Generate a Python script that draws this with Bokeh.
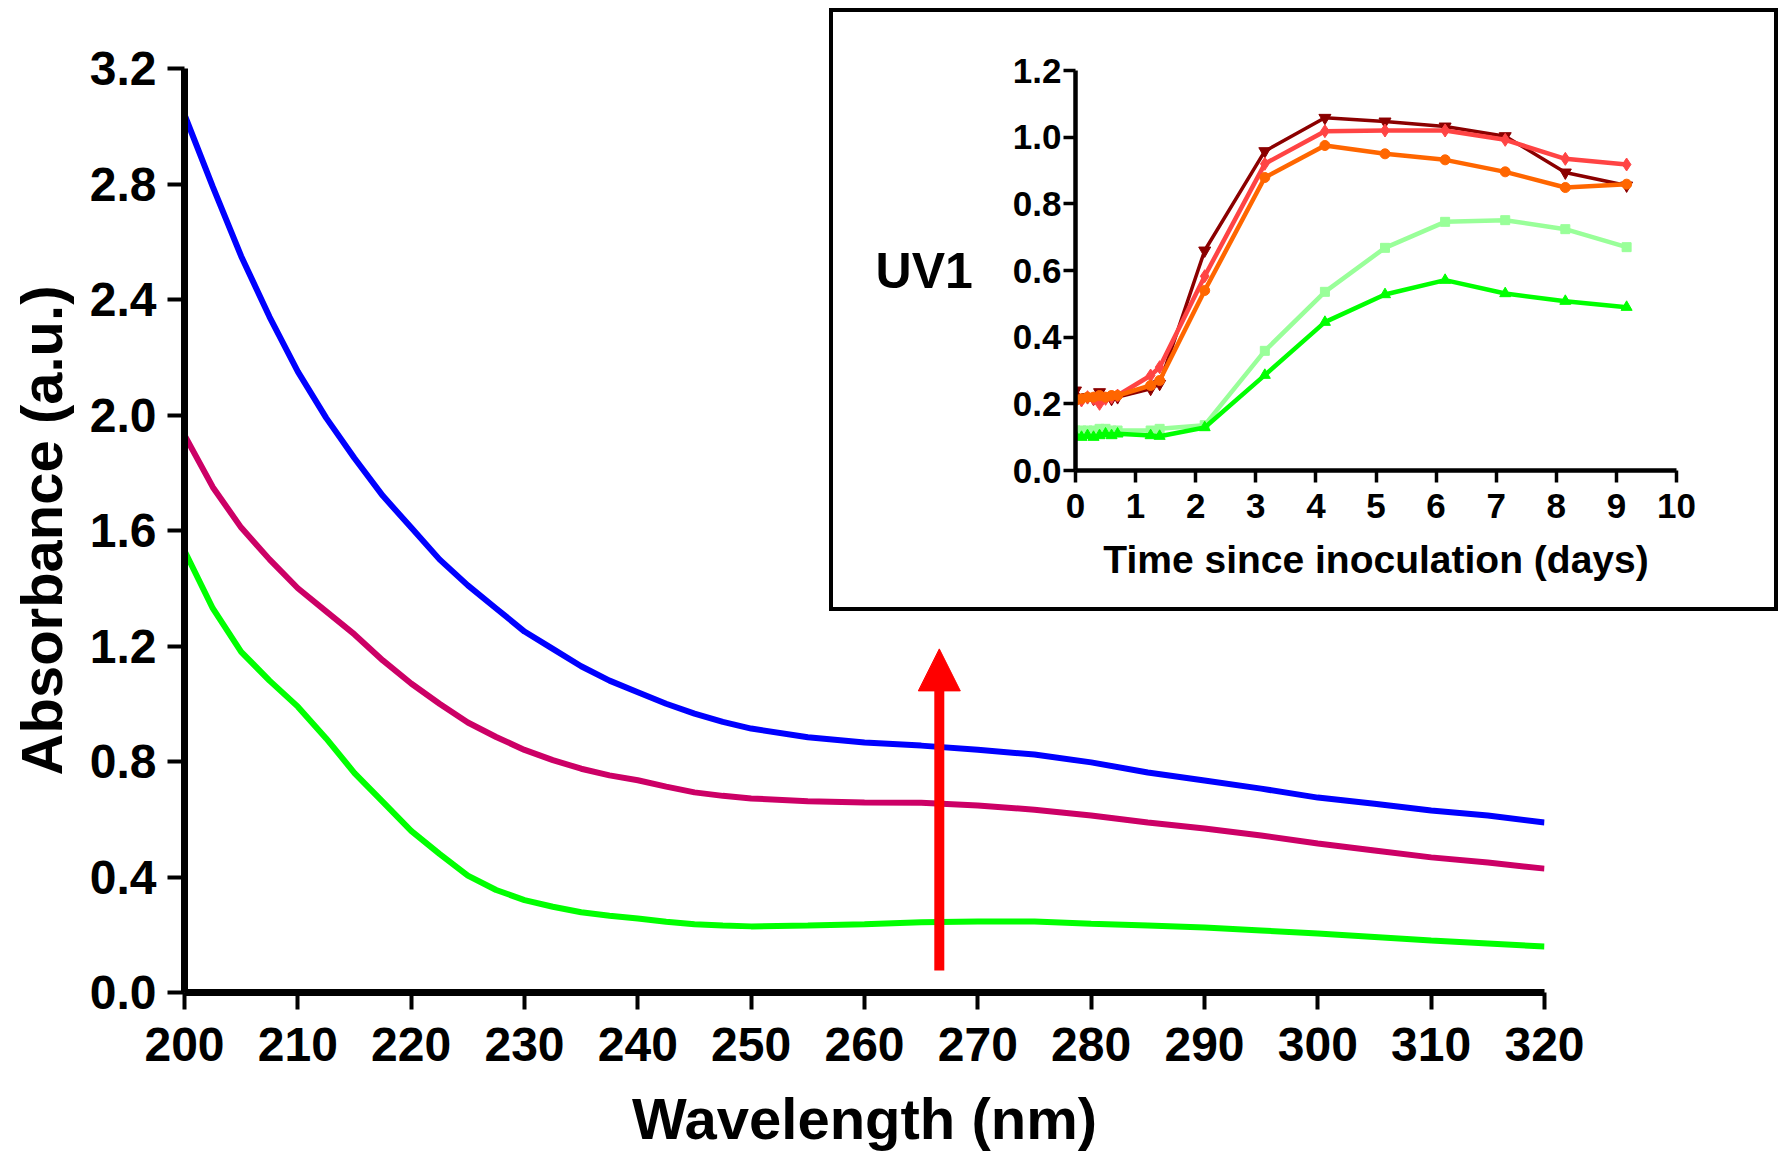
from bokeh.plotting import figure
from bokeh.models import Range1d, FixedTicker, PrintfTickFormatter, Arrow, NormalHead, Label
from bokeh.embed import file_html
from bokeh.resources import INLINE

# ---------------- main spectra ----------------
wavelength = [200, 202.5, 205, 207.5, 210, 212.5, 215, 217.5, 220, 222.5, 225, 227.5,
              230, 232.5, 235, 237.5, 240, 242.5, 245, 247.5, 250, 255, 260, 265, 270,
              275, 280, 285, 290, 295, 300, 305, 310, 315, 320]
abs_blue = [3.04, 2.79, 2.55, 2.34, 2.15, 1.99, 1.85, 1.72, 1.61, 1.50, 1.41, 1.33,
            1.25, 1.19, 1.13, 1.08, 1.04, 1.00, 0.966, 0.937, 0.914, 0.884, 0.866,
            0.855, 0.841, 0.824, 0.797, 0.762, 0.734, 0.706, 0.675, 0.654, 0.630,
            0.613, 0.589]
abs_magenta = [1.93, 1.75, 1.61, 1.50, 1.40, 1.32, 1.24, 1.15, 1.07, 1.00, 0.935, 0.885,
               0.84, 0.805, 0.775, 0.752, 0.735, 0.713, 0.693, 0.681, 0.672, 0.662,
               0.658, 0.657, 0.648, 0.633, 0.613, 0.589, 0.568, 0.544, 0.516, 0.492,
               0.468, 0.450, 0.429]
abs_green = [1.53, 1.33, 1.18, 1.08, 0.99, 0.88, 0.76, 0.66, 0.56, 0.48, 0.405, 0.355,
             0.32, 0.297, 0.278, 0.266, 0.256, 0.245, 0.236, 0.232, 0.229, 0.232, 0.236,
             0.243, 0.246, 0.246, 0.238, 0.232, 0.225, 0.215, 0.204, 0.192, 0.180,
             0.170, 0.159]
x_ticks = [200, 210, 220, 230, 240, 250, 260, 270, 280, 290, 300, 310, 320]
y_ticks = [0.0, 0.4, 0.8, 1.2, 1.6, 2.0, 2.4, 2.8, 3.2]

# arrow (wavelength, absorbance)
arrow_x = 266.6
arrow_y_start = 0.076
arrow_y_end = 1.19

# ---------------- inset time course ----------------
days = [0, 0.1, 0.2, 0.3, 0.4, 0.5, 0.6, 0.7, 1.25, 1.4, 2.15, 3.15, 4.15, 5.15,
        6.15, 7.15, 8.15, 9.17]
uv_darkred = [0.24, 0.215, 0.22, 0.215, 0.235, 0.22, 0.215, 0.22, 0.245, 0.26, 0.660,
              0.958, 1.058, 1.047, 1.032, 1.003, 0.894, 0.855]
uv_red = [0.215, 0.21, 0.22, 0.215, 0.20, 0.215, 0.22, 0.225, 0.285, 0.31, 0.583,
          0.920, 1.018, 1.020, 1.020, 0.992, 0.935, 0.918]
uv_orange = [0.21, 0.215, 0.22, 0.22, 0.225, 0.22, 0.225, 0.225, 0.255, 0.27, 0.540,
             0.879, 0.975, 0.950, 0.932, 0.896, 0.849, 0.859]
uv_lightgreen = [0.12, 0.12, 0.12, 0.12, 0.125, 0.125, 0.12, 0.12, 0.12, 0.125, 0.136,
                 0.359, 0.536, 0.668, 0.746, 0.751, 0.724, 0.670]
uv_green = [0.105, 0.10, 0.105, 0.10, 0.105, 0.11, 0.105, 0.11, 0.105, 0.103, 0.129,
            0.286, 0.445, 0.528, 0.571, 0.531, 0.508, 0.490]
inset_x_ticks = [0, 1, 2, 3, 4, 5, 6, 7, 8, 9, 10]
inset_y_ticks = [0.0, 0.2, 0.4, 0.6, 0.8, 1.0, 1.2]

FONT = "Liberation Sans"

# ---------------- main figure ----------------
W, H = 1784, 1153
p = figure(width=W, height=H, output_backend="svg", toolbar_location=None,
           x_range=Range1d(200, 320), y_range=Range1d(0, 3.2),
           min_border_left=184, min_border_right=240, min_border_top=68,
           min_border_bottom=161)
p.xgrid.visible = False
p.ygrid.visible = False
p.outline_line_color = None
p.background_fill_color = "white"

p.line(wavelength, abs_green, line_color="#00FF00", line_width=6)
p.line(wavelength, abs_magenta, line_color="#CC0066", line_width=6)
p.line(wavelength, abs_blue, line_color="#0000FF", line_width=6)

p.add_layout(Arrow(end=NormalHead(size=42, fill_color="#FF0000", line_color="#FF0000"),
                   x_start=arrow_x, y_start=arrow_y_start, x_end=arrow_x, y_end=arrow_y_end,
                   line_color="#FF0000", line_width=10))

p.xaxis.ticker = FixedTicker(ticks=x_ticks)
p.yaxis.ticker = FixedTicker(ticks=y_ticks)
p.yaxis.formatter = PrintfTickFormatter(format="%.1f")
p.xaxis.axis_label = "Wavelength (nm)"
p.yaxis.axis_label = "Absorbance (a.u.)"
for ax in (p.xaxis[0], p.yaxis[0]):
    ax.axis_line_width = 7
    ax.axis_line_color = "black"
    ax.major_tick_line_width = 4
    ax.major_tick_out = 17
    ax.major_tick_in = 0
    ax.minor_tick_line_color = None
    ax.major_label_text_font = FONT
    ax.major_label_text_font_style = "bold"
    ax.major_label_text_font_size = "48px"
    ax.major_label_text_color = "black"
    ax.axis_label_text_font = FONT
    ax.axis_label_text_font_style = "bold"
    ax.axis_label_text_font_size = "58px"
    ax.axis_label_text_color = "black"
p.xaxis.major_label_standoff = 18
p.yaxis.major_label_standoff = 11
p.xaxis.axis_label_standoff = 22
p.yaxis.axis_label_standoff = 13

# ---------------- inset figure ----------------
IW, IH = 941, 595
q = figure(width=IW, height=IH, output_backend="svg", toolbar_location=None,
           x_range=Range1d(0, 10), y_range=Range1d(0, 1.2),
           min_border_left=242, min_border_right=106, min_border_top=58,
           min_border_bottom=145,
           styles={"position": "absolute", "left": "829px", "top": "8px",
                   "border": "4px solid black", "box-sizing": "content-box"})
q.xgrid.visible = False
q.ygrid.visible = False
q.outline_line_color = None

series = [
    (uv_darkred, "#8B0000", "inverted_triangle", 12, 3.5),
    (uv_red, "#FF4444", "diamond", 13, 4.5),
    (uv_orange, "#FF6600", "circle", 10, 4.5),
    (uv_lightgreen, "#99FF99", "square", 9, 4.5),
    (uv_green, "#00FF00", "triangle", 11, 4.5),
]
for vals, col, mk, sz, lw in series:
    q.line(days, vals, line_color=col, line_width=lw)
    q.scatter(days, vals, marker=mk, size=sz, fill_color=col, line_color=col)

q.xaxis.ticker = FixedTicker(ticks=inset_x_ticks)
q.yaxis.ticker = FixedTicker(ticks=inset_y_ticks)
q.yaxis.formatter = PrintfTickFormatter(format="%.1f")
q.xaxis.axis_label = "Time since inoculation (days)"
for ax in (q.xaxis[0], q.yaxis[0]):
    ax.axis_line_width = 4.5
    ax.axis_line_color = "black"
    ax.major_tick_line_width = 3.5
    ax.major_tick_out = 12
    ax.major_tick_in = 0
    ax.minor_tick_line_color = None
    ax.major_label_text_font = FONT
    ax.major_label_text_font_style = "bold"
    ax.major_label_text_font_size = "35px"
    ax.major_label_text_color = "black"
    ax.axis_label_text_font = FONT
    ax.axis_label_text_font_style = "bold"
    ax.axis_label_text_font_size = "39px"
    ax.axis_label_text_color = "black"
q.xaxis.major_label_standoff = 11
q.yaxis.major_label_standoff = 2
q.xaxis.axis_label_standoff = 17

yax = q.yaxis[0]
if "axis_label_orientation" in yax.properties():
    yax.axis_label = "UV1"
    yax.axis_label_orientation = "horizontal"
    yax.axis_label_text_font_size = "50px"
    yax.axis_label_standoff = 37
else:
    q.add_layout(Label(x=95, y=IH - 261, x_units="screen", y_units="screen", text="UV1",
                       text_font=FONT, text_font_style="bold", text_font_size="50px",
                       text_align="center", text_baseline="middle", text_color="black"))

open("out.html", "w").write(file_html([p, q], INLINE))
